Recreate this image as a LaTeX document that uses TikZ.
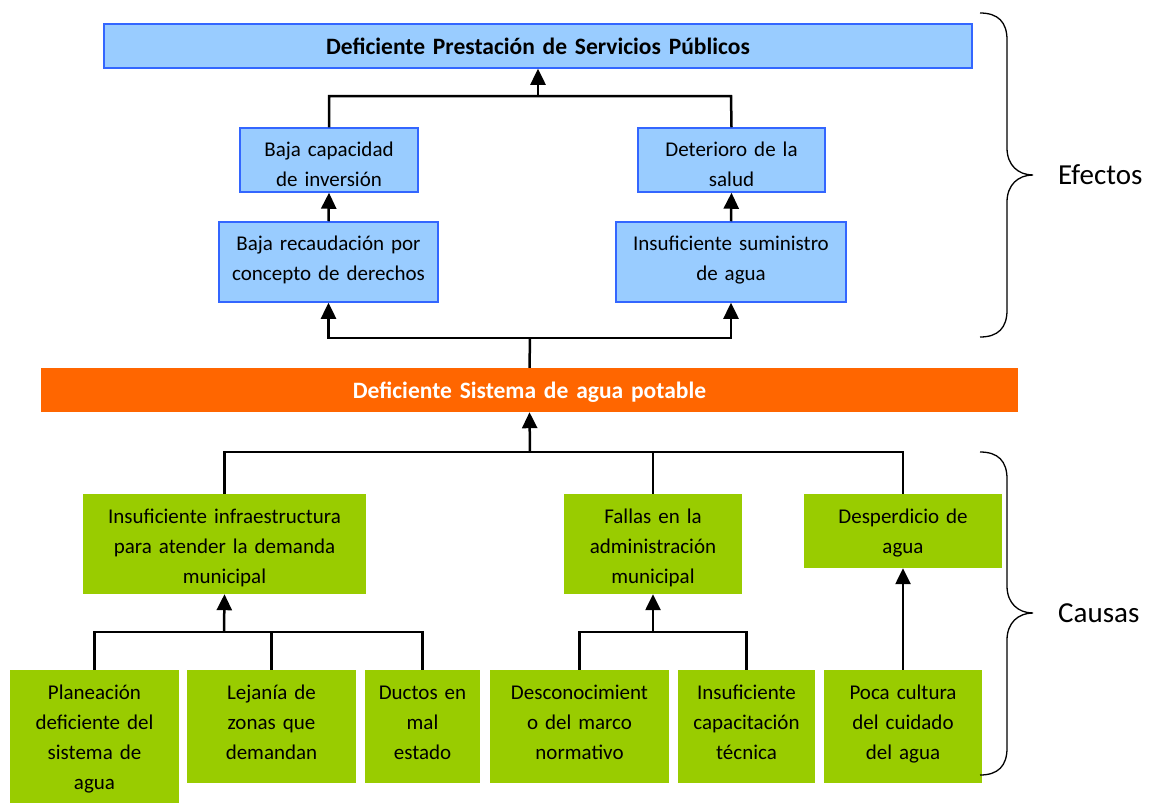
\documentclass[tikz,border=0pt]{standalone}
\usepackage{fontspec}
\setmainfont{Carlito}
\usepackage{xcolor}
\usetikzlibrary{positioning,arrows.meta}

\definecolor{efblue}{HTML}{99CCFF}
\definecolor{efedge}{HTML}{3366FF}
\definecolor{proborange}{HTML}{FF6600}
\definecolor{causgreen}{HTML}{99CC00}

\begin{document}
\begin{tikzpicture}[x=1pt, y=-1pt,
    efecto/.style={draw=efedge, fill=efblue, line width=1.5pt, align=center, inner sep=0pt, text height=28pt, font=\fontsize{21}{30}\selectfont},
    causa/.style={fill=causgreen, align=center, inner sep=0pt, text height=29pt, font=\fontsize{21}{30}\selectfont},
    titulo/.style={align=center, inner sep=0pt, text height=30pt, font=\fontsize{23.5}{30}\selectfont\bfseries},
    linea/.style={line width=2.5pt},
    flecha/.style={line width=2.5pt, -{Triangle[width=15pt,length=16pt]}},
    llave/.style={line width=1.3pt}]

  \useasboundingbox (0,0) rectangle (1153,803);

  % junctions
  \coordinate (jTop) at (538, 96);
  \coordinate (jLeft) at (329, 96);
  \coordinate (jRight) at (731, 96);
  \coordinate (jMid) at (530, 338);
  \coordinate (jSys) at (530, 452);
  \coordinate (jInfra) at (224, 632);
  \coordinate (jFallas) at (653, 632);

  % efectos
  \node [titulo, draw=efedge, fill=efblue, line width=1.5pt, text width=868pt, text depth=14pt] (top) at (538, 46) {Deficiente Prestación de Servicios Públicos};
  \node [efecto, text width=178pt, text depth=36pt] (capac) at (329, 160) {Baja capacidad\\de inversión};
  \node [efecto, text width=187pt, text depth=36pt] (deter) at (731.5, 160) {Deterioro de la\\salud};
  \node [efecto, text width=219pt, text depth=52pt] (recaud) at (328.5, 262) {Baja recaudación por\\concepto de derechos};
  \node [efecto, text width=230pt, text depth=52pt] (sumin) at (731, 262) {Insuficiente suministro\\de agua};

  % problema
  \node [titulo, fill=proborange, text=white, text width=977pt, text height=30.5pt, text depth=13.5pt] (sys) at (529.5, 390) {Deficiente Sistema de agua potable};

  % causas
  \node [causa, text width=283pt, text depth=71pt] (infra) at (224.5, 544) {Insuficiente infraestructura\\para atender la demanda\\municipal};
  \node [causa, text width=178pt, text depth=71pt] (fallas) at (653, 544) {Fallas en la\\administración\\municipal};
  \node [causa, text width=198pt, text depth=45pt] (desp) at (903, 531) {Desperdicio de\\agua};

  \node [causa, text width=169pt, text depth=104pt] (plan) at (94.5, 736.5) {Planeación\\deficiente del\\sistema de\\agua};
  \node [causa, text width=169pt, text depth=84pt] (lejania) at (271.5, 726.5) {Lejanía de\\zonas que\\demandan};
  \node [causa, text width=115pt, text depth=84pt] (ductos) at (422.5, 726.5) {Ductos en\\mal\\estado};
  \node [causa, text width=179pt, text depth=84pt] (desc) at (579.5, 726.5) {Desconocimient\\o del marco\\normativo};
  \node [causa, text width=137pt, text depth=84pt] (capt) at (746.5, 726.5) {Insuficiente\\capacitación\\técnica};
  \node [causa, text width=158pt, text depth=84pt] (poca) at (903, 726.5) {Poca cultura\\del cuidado\\del agua};

  % arriba
  \draw [linea] (capac.north) -- (jLeft) -- (jRight) -- (deter.north);
  \draw [flecha] (jTop) -- (top.south);
  \draw [flecha] (recaud.north) -- (capac.south);
  \draw [flecha] (sumin.north) -- (deter.south);
  \draw [linea] (sys.north) -- (jMid);
  \draw [flecha] (jMid) -| (recaud.south);
  \draw [flecha] (jMid) -| (sumin.south);

  % abajo
  \draw [flecha] (jSys) -- (sys.south);
  \draw [linea] (infra.north) |- (jSys) -| (desp.north);
  \draw [linea] (fallas.north) -- (fallas.north |- jSys);
  \draw [flecha] (jInfra) -- (infra.south);
  \draw [linea] (plan.north) |- (jInfra) -| (ductos.north);
  \draw [linea] (lejania.north) -- (lejania.north |- jInfra);
  \draw [flecha] (jFallas) -- (fallas.south);
  \draw [linea] (desc.north) |- (jFallas) -| (capt.north);
  \draw [flecha] (poca.north) -- (desp.south);

  % llaves
  \draw [llave] (980, 13) .. controls (998, 13) and (1007, 22) .. (1007, 40) -- (1007, 148)
    .. controls (1007, 165) and (1018, 175) .. (1033, 175)
    .. controls (1018, 175) and (1007, 185) .. (1007, 202) -- (1007, 310)
    .. controls (1007, 328) and (998, 337) .. (980, 337);
  \draw [llave] (980, 452) .. controls (998, 452) and (1007, 461) .. (1007, 479) -- (1007, 586)
    .. controls (1007, 603) and (1018, 613) .. (1033, 613)
    .. controls (1018, 613) and (1007, 623) .. (1007, 640) -- (1007, 748)
    .. controls (1007, 766) and (998, 775) .. (980, 775);
  \node [anchor=west, inner sep=0pt, font=\fontsize{29}{35}\selectfont] (efectos) at (1058, 175) {Efectos};
  \node [anchor=west, inner sep=0pt, font=\fontsize{29}{35}\selectfont] (causas) at (1058, 613) {Causas};
\end{tikzpicture}
\end{document}
